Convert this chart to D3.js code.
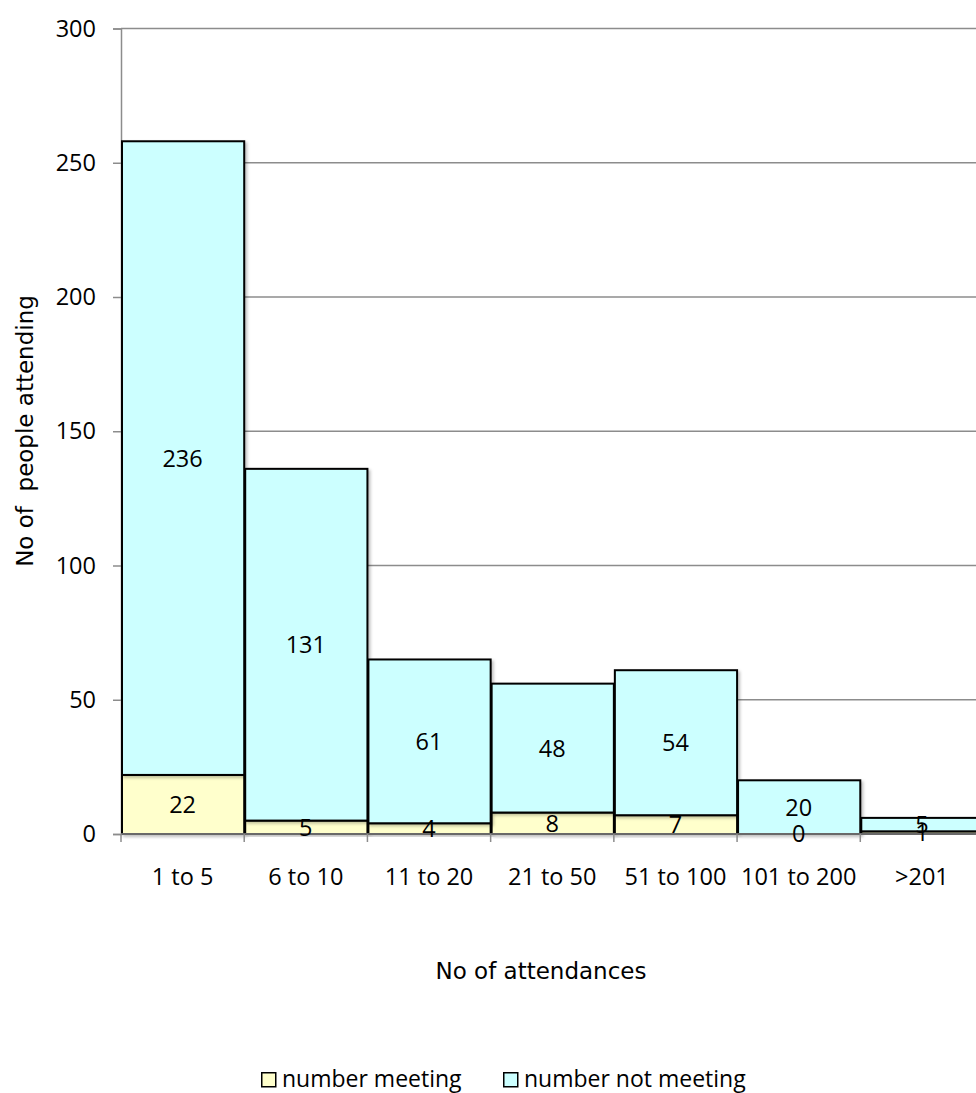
<!DOCTYPE html>
<html>
<head>
<meta charset="utf-8">
<script src="https://cdn.jsdelivr.net/npm/d3@7"></script>
<style>
  body { margin: 0; background: #fff; }
  svg { display: block; }
</style>
</head>
<body>
<svg id="chart" width="976" height="1093"></svg>
<script>
// Attendance bands and stacked counts
const categories = ["1 to 5", "6 to 10", "11 to 20", "21 to 50", "51 to 100", "101 to 200", ">201"];
const meeting    = [22, 5, 4, 8, 7, 0, 1];
const notMeeting = [236, 131, 61, 48, 54, 20, 5];
const yTicks = [0, 50, 100, 150, 200, 250, 300];
const seriesNames = ["number meeting", "number not meeting"];
const seriesColors = ["#ffffcc", "#ccffff"];

const svg = d3.select("#chart");
const plotLeft = 121, plotRight = 983.5, plotTop = 28.5, plotBottom = 834;
const font = "'Open Sans', 'Noto Sans', sans-serif";
const titleFont = "'DejaVu Sans', Verdana, sans-serif";
const fs = 23.5;

const x = d3.scaleBand().domain(categories).range([plotLeft, plotRight]).padding(0);
const y = d3.scaleLinear().domain([0, 300]).range([plotBottom, plotTop]);

const defs = svg.append("defs");
const sh = defs.append("filter").attr("id", "shadow").attr("x", "-10%").attr("y", "-10%").attr("width", "130%").attr("height", "130%");
sh.append("feDropShadow").attr("dx", 2).attr("dy", 2).attr("stdDeviation", 1.5).attr("flood-color", "#000").attr("flood-opacity", 0.25);

// Horizontal gridlines
svg.append("g").selectAll("line").data(yTicks.filter(d => d > 0)).join("line")
  .attr("x1", plotLeft).attr("x2", 976)
  .attr("y1", d => y(d)).attr("y2", d => y(d))
  .attr("stroke", "#8c8c8c").attr("stroke-width", 1.5);

// Y axis
const yAxis = svg.append("g").attr("transform", `translate(${plotLeft},0)`)
  .call(d3.axisLeft(y).tickValues(yTicks).tickSize(8).tickPadding(17));
yAxis.select(".domain").attr("stroke", "#8c8c8c").attr("stroke-width", 1.5);
yAxis.selectAll(".tick line").attr("stroke", "#8c8c8c").attr("stroke-width", 1.5);
yAxis.selectAll("text").attr("font-family", font).attr("font-size", fs).attr("fill", "#000");

// Stacked data
const rows = categories.map((c, i) => ({ cat: c, meeting: meeting[i], notMeeting: notMeeting[i] }));
const stack = d3.stack().keys(["meeting", "notMeeting"])(rows);

const layers = svg.append("g").selectAll("g").data(stack).join("g")
  .attr("fill", (d, i) => seriesColors[i]);

layers.selectAll("rect").data(d => d).join("rect")
  .attr("x", d => x(d.data.cat) + 1)
  .attr("width", x.bandwidth() - 1)
  .attr("y", d => y(d[1]))
  .attr("height", d => y(d[0]) - y(d[1]))
  .attr("stroke", "#000").attr("stroke-width", 2)
  .attr("filter", "url(#shadow)");

// X axis
const xAxis = svg.append("g").attr("transform", `translate(0,${plotBottom})`);
xAxis.append("line").attr("x1", plotLeft).attr("x2", 976).attr("stroke", "#8c8c8c").attr("stroke-width", 1.5);
xAxis.selectAll(".bt").data(categories).join("line").attr("class", "bt")
  .attr("x1", d => x(d)).attr("x2", d => x(d)).attr("y1", 0).attr("y2", 8)
  .attr("stroke", "#8c8c8c").attr("stroke-width", 1.5);
xAxis.selectAll("text").data(categories).join("text")
  .attr("x", d => x(d) + x.bandwidth() / 2).attr("y", 51)
  .attr("text-anchor", "middle").attr("font-family", font).attr("font-size", fs)
  .text(d => d);

// Value labels centered in each segment, drawn above every bar
const labelData = stack.flatMap(layer => layer.map(v => ({ v, key: layer.key })));
svg.append("g").selectAll("text").data(labelData).join("text")
  .attr("x", d => x(d.v.data.cat) + x.bandwidth() / 2)
  .attr("y", d => (y(d.v[0]) + y(d.v[1])) / 2)
  .attr("dy", "0.36em")
  .attr("text-anchor", "middle").attr("font-family", font).attr("font-size", fs)
  .attr("fill", "#000")
  .text(d => d.v.data[d.key]);

// Axis titles
svg.append("text").attr("x", 541).attr("y", 979).attr("text-anchor", "middle")
  .attr("font-family", titleFont).attr("font-size", 23)
  .text("No of attendances");
svg.append("text").attr("transform", "translate(33,431) rotate(-90)").attr("text-anchor", "middle")
  .attr("font-family", titleFont).attr("font-size", 23)
  .attr("xml:space", "preserve")
  .text("No of  people attending");

// Legend
const legendX = [261, 503];
const legend = svg.append("g").selectAll("g").data(seriesNames).join("g")
  .attr("transform", (d, i) => `translate(${legendX[i]},1072)`);
legend.append("rect").attr("x", 0.75).attr("y", 0.75).attr("width", 14).attr("height", 14)
  .attr("fill", (d, i) => seriesColors[i]).attr("stroke", "#000").attr("stroke-width", 1.5);
legend.append("text").attr("x", 21).attr("y", 15).attr("font-family", font).attr("font-size", 23)
  .text(d => d);
</script>
</body>
</html>
